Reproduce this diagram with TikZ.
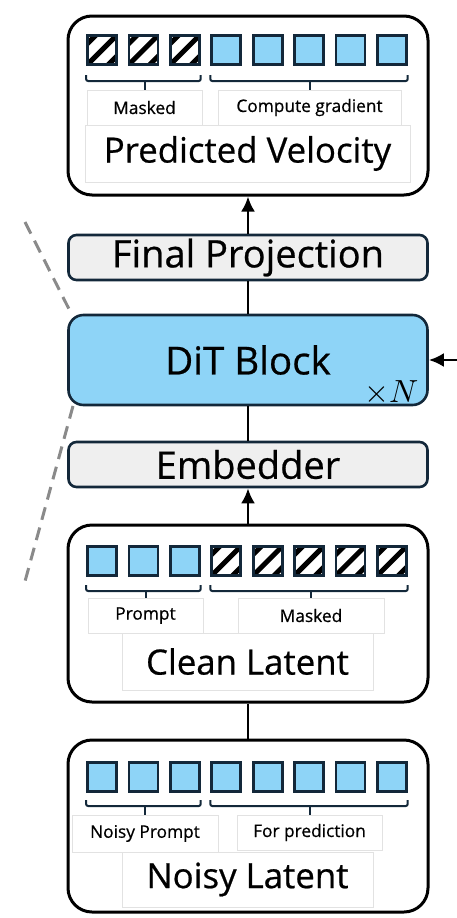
\documentclass[tikz,border=0pt]{standalone}
\usepackage{fontspec}
\usepackage{unicode-math}
\setmainfont[FakeBold=0.6]{Open Sans}
\setmathfont{Latin Modern Math}
\usetikzlibrary{arrows.meta,calc}
\definecolor{navy}{HTML}{13283A}
\definecolor{tokblue}{HTML}{8ED4F7}
\definecolor{boxgray}{HTML}{EFEFEF}
\definecolor{lblgray}{HTML}{E2E2E2}
\definecolor{dashgray}{HTML}{8A8A8A}
\tikzset{
  outerbox/.style={draw=black, line width=3pt, rounded corners=24pt, inner sep=0pt, fill=white},
  layerbox/.style={draw=navy, line width=2.6pt, rounded corners=8pt, inner sep=0pt, fill=boxgray,
    minimum width=359pt, minimum height=45pt, font=\fontsize{38}{40}\selectfont},
  ditbox/.style={layerbox, fill=tokblue, rounded corners=15pt, minimum height=90pt, font=\fontsize{38.5}{40}\selectfont},
  lbl/.style={draw=lblgray, line width=0.8pt, fill=white, inner sep=0pt, font=\fontsize{17.3}{19}\selectfont},
  biglbl/.style={lbl, font=\fontsize{34.8}{37}\selectfont},
  tok/.style={draw=navy, line width=2.8pt, minimum size=29pt, inner sep=0pt, fill=tokblue},
  hatch/.style={tok, fill=white, path picture={
      \draw[black, line width=5pt]
        ([xshift=-10pt,yshift=-10pt]path picture bounding box.south west) --
        ([xshift=10pt,yshift=10pt]path picture bounding box.north east);
      \draw[black, line width=5pt]
        ([xshift=-10pt,yshift=11pt]path picture bounding box.south west) --
        ([xshift=-11pt,yshift=10pt]path picture bounding box.north east);
      \draw[black, line width=5pt]
        ([xshift=11pt,yshift=-10pt]path picture bounding box.south west) --
        ([xshift=10pt,yshift=-11pt]path picture bounding box.north east);
    }},
  bracel/.style={draw=navy, line width=2pt, rounded corners=2pt},
  conn/.style={draw=black, line width=2.8pt},
  arr/.style={conn, -{Latex[length=15pt,width=14pt]}},
  dashln/.style={draw=dashgray, line width=3pt, dash pattern=on 13pt off 8pt},
}
\newcommand{\tokrow}[3]{% prefix, y, list of styles
  \foreach \st [count=\i] in {#3} {
    \node[\st] (#1\i) at ({102+41.4*(\i-1)},#2) {};
  }
}
\newcommand{\mybrace}[6]{% name, left node, right node, ytop, ybar, target label
  \draw[bracel] ($(#2.west|-0,#4)$) -- ($(#2.west|-0,#5)$) -- ($(#3.east|-0,#5)$) -- ($(#3.east|-0,#4)$);
  \draw[bracel] ($(#6.north|-0,#5)$) -- (#6.north);
}
\begin{document}
\begin{tikzpicture}[x=1pt,y=-1pt]
\useasboundingbox (0,0) rectangle (456,918);

% dashed guide lines
\coordinate (d1) at (25,222);
\coordinate (d2) at (72,315);
\coordinate (d3) at (73,406);
\coordinate (d4) at (24,585);
\draw[dashln] (d1) -- (d2);
\draw[dashln] (d3) -- (d4);

% outer boxes
\node[outerbox, minimum width=360pt, minimum height=179pt] (pv) at (248,105.5) {};
\node[outerbox, minimum width=360pt, minimum height=177pt] (cl) at (248,613.5) {};
\node[outerbox, minimum width=360pt, minimum height=172pt] (nl) at (248,826) {};

% layers
\node[layerbox] (fp) at (248,257.5) {Final Projection};
\node[ditbox] (dit) at (248,360) {DiT Block};
\node[anchor=south east, inner sep=0pt, font=\fontsize{32}{32}\selectfont] (xn) at (419,403) {$\times N$};
\node[layerbox] (emb) at (248,464.5) {Embedder};

% top: predicted velocity
\tokrow{pt}{50}{hatch,hatch,hatch,tok,tok,tok,tok,tok}
\node[lbl, minimum width=115pt, minimum height=35pt] (pvm) at (144.5,107.5) {Masked};
\node[lbl, minimum width=183pt, minimum height=35pt] (pvc) at (309.5,107.5) {Compute gradient};
\node[biglbl, minimum width=325pt, minimum height=57pt] (pvt) at (247.5,153.5) {Predicted Velocity};
\mybrace{a}{pt1}{pt3}{75}{81}{pvm}
\mybrace{b}{pt4}{pt8}{75}{81}{pvc}

% clean latent
\tokrow{ct}{561}{tok,tok,tok,hatch,hatch,hatch,hatch,hatch}
\node[lbl, minimum width=115pt, minimum height=35pt] (clp) at (145.5,615.5) {Prompt};
\node[lbl, minimum width=146pt, minimum height=35pt] (clm) at (311,615.5) {Masked};
\node[biglbl, minimum width=251pt, minimum height=57pt] (clt) at (247.5,661.5) {Clean Latent};
\mybrace{c}{ct1}{ct3}{585}{591}{clp}
\mybrace{d}{ct4}{ct8}{585}{591}{clm}

% noisy latent
\tokrow{nt}{777}{tok,tok,tok,tok,tok,tok,tok,tok}
\node[lbl, minimum width=146pt, minimum height=37pt] (nlp) at (145,833.5) {Noisy Prompt};
\node[lbl, minimum width=145pt, minimum height=35pt] (nlf) at (309.5,832.5) {For prediction};
\node[biglbl, minimum width=251pt, minimum height=55pt] (nlt) at (247.5,879.5) {Noisy Latent};
\mybrace{e}{nt1}{nt3}{800}{806}{nlp}
\mybrace{f}{nt4}{nt8}{800}{806}{nlf}

% connectors
\draw[conn] (nl.north) -- (cl.south);
\draw[arr] (cl.north) -- (emb.south);
\draw[conn] (emb.north) -- (dit.south);
\draw[conn] (dit.north) -- (fp.south);
\draw[arr] (fp.north) -- (pv.south);
\coordinate (rin) at (458,360);
\draw[arr] (rin) -- (dit.east);
\end{tikzpicture}
\end{document}
